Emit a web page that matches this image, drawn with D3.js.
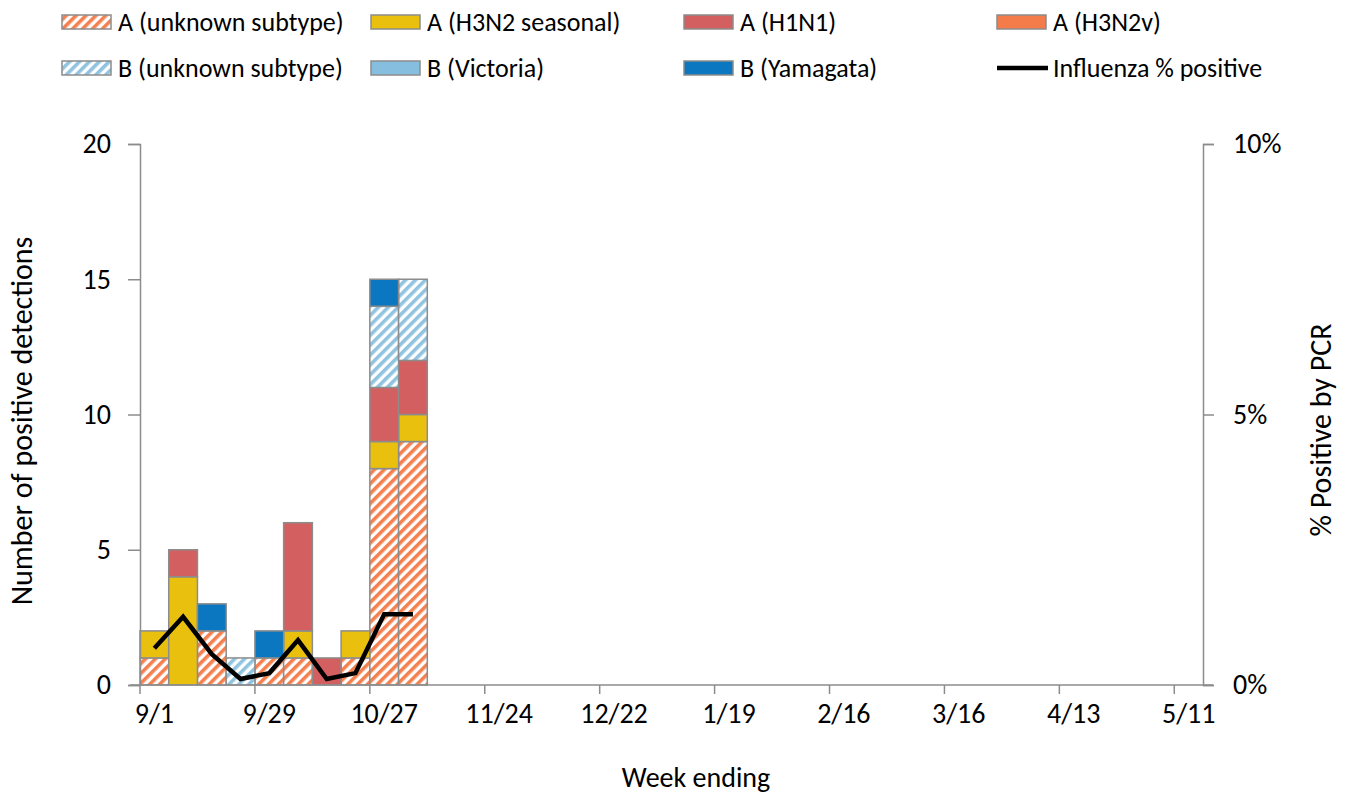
<!DOCTYPE html>
<html>
<head>
<meta charset="utf-8">
<script src="https://cdn.jsdelivr.net/npm/d3@7"></script>
<style>
  html, body { margin: 0; padding: 0; background: #fff; }
  svg { display: block; }
  text { font-family: Carlito, Calibri, Lato, "Open Sans", sans-serif; fill: #000; }
</style>
</head>
<body>
<svg id="chart" width="1345" height="795"></svg>
<script>
// ---------- DATA ----------
const weeks = ["9/1","9/8","9/15","9/22","9/29","10/6","10/13","10/20","10/27","11/3",
  "11/10","11/17","11/24","12/1","12/8","12/15","12/22","12/29","1/5","1/12","1/19",
  "1/26","2/2","2/9","2/16","2/23","3/2","3/9","3/16","3/23","3/30","4/6","4/13",
  "4/20","4/27","5/4","5/11"];
const tickLabels = ["9/1","9/29","10/27","11/24","12/22","1/19","2/16","3/16","4/13","5/11"];

// counts per week (weeks after 11/3 have no detections)
const aUnknown  = [1,0,2,0,1,1,0,1,8,9];
const aH3N2     = [1,4,0,0,0,1,0,1,1,1];
const aH1N1     = [0,1,0,0,0,4,1,0,2,2];
const aH3N2v    = [0,0,0,0,0,0,0,0,0,0];
const bUnknown  = [0,0,0,1,0,0,0,0,3,3];
const bVictoria = [0,0,0,0,0,0,0,0,0,0];
const bYamagata = [0,0,1,0,1,0,0,0,1,0];
const pctPositive = [0.0068,0.0126,0.0057,0.0011,0.0022,0.0083,0.0011,0.0022,0.0131,0.0131];

const seriesNames = ["A (unknown subtype)","A (H3N2 seasonal)","A (H1N1)","A (H3N2v)",
  "B (unknown subtype)","B (Victoria)","B (Yamagata)"];
const lineName = "Influenza % positive";
const yTicks = [0,5,10,15,20];
const y2Ticks = [0,0.05,0.10];

// ---------- SETUP ----------
const svg = d3.select("#chart");
const FONT = 28, LEGFONT = 26, TITLEFONT = 30;
const grey = "#8c8c8c";
const L = 140, R = 1203, T = 144, B = 685;

const seriesData = [aUnknown,aH3N2,aH1N1,aH3N2v,bUnknown,bVictoria,bYamagata];
const fills = ["url(#hatchA)","#e9c00e","#d45f60","#f47b4a","url(#hatchB)","#86bedf","#0a77c0"];

const defs = svg.append("defs");
function hatch(id, color){
  const p = defs.append("pattern").attr("id",id).attr("patternUnits","userSpaceOnUse")
    .attr("width",7).attr("height",7).attr("patternTransform","rotate(45)");
  p.append("rect").attr("width",7).attr("height",7).attr("fill","#fff");
  p.append("rect").attr("x",0).attr("y",0).attr("width",3.6).attr("height",7).attr("fill",color);
}
hatch("hatchA","#f4804f");
hatch("hatchB","#8fc3e0");

const x = d3.scaleBand().domain(weeks).range([L,R]).padding(0);
const y = d3.scaleLinear().domain([0,20]).range([B,T]);
const y2 = d3.scaleLinear().domain([0,0.10]).range([B,T]);

// stacked data
const table = weeks.map((w,i)=>{
  const o = {week:w};
  seriesNames.forEach((s,k)=>{ o[s] = seriesData[k][i] || 0; });
  return o;
});
const stack = d3.stack().keys(seriesNames)(table);

const gBars = svg.append("g");
stack.forEach((layer,k)=>{
  gBars.selectAll(null).data(layer.filter(d=>d[1]-d[0]>0)).enter().append("rect")
    .attr("x",d=>x(d.data.week))
    .attr("width",x.bandwidth())
    .attr("y",d=>y(d[1]))
    .attr("height",d=>y(d[0])-y(d[1]))
    .attr("fill",fills[k])
    .attr("stroke",grey).attr("stroke-width",1.5);
});

// axes
const axL = svg.append("g").attr("transform",`translate(${L},0)`)
  .call(d3.axisLeft(y).tickValues(yTicks).tickSize(12).tickPadding(17).tickFormat(d3.format("d")));
const axR = svg.append("g").attr("transform",`translate(${R},0)`)
  .call(d3.axisRight(y2).tickValues(y2Ticks).tickSize(11).tickPadding(19).tickFormat(d3.format(".0%")));
[axL,axR].forEach(a=>{
  a.select(".domain").attr("stroke",grey).attr("stroke-width",1.5);
  a.selectAll(".tick line").attr("stroke",grey).attr("stroke-width",1.5);
  a.selectAll(".tick text").attr("font-size",FONT).attr("font-family",null).attr("fill","#000");
});

// x axis (category axis, ticks between categories)
const gx = svg.append("g");
gx.append("line").attr("x1",L-10).attr("x2",R+10).attr("y1",B).attr("y2",B)
  .attr("stroke",grey).attr("stroke-width",1.5);
tickLabels.forEach(lbl=>{
  const xl = x(lbl);
  gx.append("line").attr("x1",xl).attr("x2",xl).attr("y1",B).attr("y2",B+9)
    .attr("stroke",grey).attr("stroke-width",1.5);
  gx.append("text").attr("x",xl + x.bandwidth()/2).attr("y",B+38)
    .attr("text-anchor","middle").attr("font-size",FONT).text(lbl);
});

// line
const line = d3.line().x((d,i)=>x(weeks[i])+x.bandwidth()/2).y(d=>y2(d));
svg.append("path").datum(pctPositive).attr("d",line)
  .attr("fill","none").attr("stroke","#000").attr("stroke-width",4.5)
  .attr("stroke-linejoin","miter");

// axis titles
svg.append("text").attr("x",696).attr("y",787).attr("text-anchor","middle")
  .attr("font-size",FONT).text("Week ending");
svg.append("text").attr("transform","translate(32,421) rotate(-90)")
  .attr("text-anchor","middle").attr("font-size",TITLEFONT).text("Number of positive detections");
svg.append("text").attr("transform","translate(1331,430) rotate(-90)")
  .attr("text-anchor","middle").attr("font-size",TITLEFONT).text("% Positive by PCR");

// legend
const legItems = seriesNames.concat([lineName]);
const colX = [62,371,684,997];
const rowY = [22,68];
legItems.forEach((name,i)=>{
  const c = i%4, r = Math.floor(i/4);
  const gx0 = colX[c], cy = rowY[r];
  const g = svg.append("g");
  if (i < 7){
    g.append("rect").attr("x",gx0).attr("y",cy-7).attr("width",49).attr("height",14)
      .attr("fill",fills[i]).attr("stroke",grey).attr("stroke-width",1.5);
  } else {
    g.append("line").attr("x1",gx0).attr("x2",gx0+51).attr("y1",cy).attr("y2",cy)
      .attr("stroke","#000").attr("stroke-width",4.5);
  }
  g.append("text").attr("x",gx0+56).attr("y",cy).attr("dy","0.35em")
    .attr("font-size",LEGFONT).text(name);
});
</script>
</body>
</html>
